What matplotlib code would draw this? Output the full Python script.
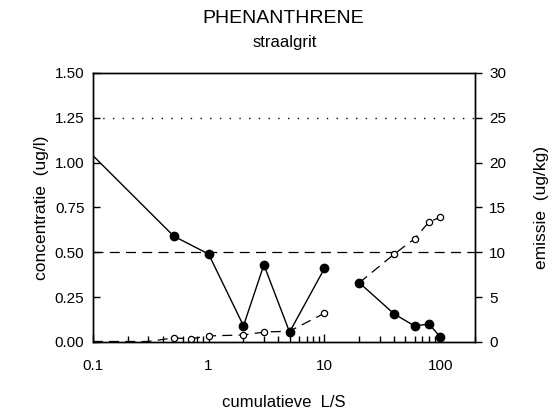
import numpy as np
import matplotlib.pyplot as plt
from matplotlib.ticker import FixedLocator, FuncFormatter, NullFormatter

plt.rcParams['font.family'] = ['Liberation Sans', 'DejaVu Sans']

# concentratie (ug/l), gevulde cirkels
conc_x1 = [0.1, 0.5, 1, 2, 3, 5, 10]
conc_y1 = [1.04, 0.59, 0.49, 0.09, 0.43, 0.055, 0.41]
conc_x2 = [20, 40, 60, 80, 100]
conc_y2 = [0.33, 0.156, 0.089, 0.10, 0.028]

# emissie (ug/kg), open cirkels
emis_x1 = [0.1, 0.2, 0.3, 0.5, 0.7, 1, 2, 3, 5, 10]
emis_y1 = [0.05, 0.05, 0.05, 0.45, 0.35, 0.67, 0.78, 1.1, 1.2, 3.2]
emis_x2 = [20, 40, 60, 80, 100]
emis_y2 = [6.6, 9.8, 11.5, 13.4, 13.9]

dotted_level = 1.25
dashed_level = 0.50

fig = plt.figure(figsize=(5.59, 4.17), dpi=100)
ax = fig.add_axes([0.166, 0.180, 0.684, 0.645])
ax.set_xscale('log')
ax2 = ax.twinx()

# referentielijnen
ax.axhline(dotted_level, color='black', linestyle=(0, (1, 6)), linewidth=1.0)
ax.axhline(dashed_level, color='black', linestyle=(0, (8, 5)), linewidth=0.9)

# emissie (rechter as)
ax2.plot(emis_x1, emis_y1, color='black', linestyle=(0, (8, 5)), linewidth=0.9,
         marker='o', markersize=4.5, markerfacecolor='white', markeredgecolor='black',
         markeredgewidth=0.9, markevery=list(range(3, len(emis_x1))), zorder=2)
ax2.plot(emis_x2, emis_y2, color='black', linestyle=(0, (8, 5)), linewidth=0.9,
         marker='o', markersize=4.5, markerfacecolor='white', markeredgecolor='black',
         markeredgewidth=0.9, zorder=2)

# concentratie (linker as) bovenop, omgerekend naar rechter schaal
ax2.plot(conc_x1, [v * 20 for v in conc_y1], color='black', linewidth=1.0,
         marker='o', markersize=6, markerfacecolor='black', markeredgecolor='black',
         markevery=list(range(1, len(conc_x1))), zorder=3)
ax2.plot(conc_x2, [v * 20 for v in conc_y2], color='black', linewidth=1.0,
         marker='o', markersize=6, markerfacecolor='black', markeredgecolor='black',
         zorder=3)

ax.set_xlim(0.1, 200)
ax.set_ylim(0, 1.5)
ax2.set_ylim(0, 30)

minor = [k * 10.0 ** e for e in (-1, 0, 1, 2) for k in range(2, 10) if k * 10.0 ** e <= 200]
ax.xaxis.set_major_locator(FixedLocator([0.1, 1, 10, 100]))
ax.xaxis.set_major_formatter(FuncFormatter(lambda v, p: f"{v:g}"))
ax.xaxis.set_minor_locator(FixedLocator(minor))
ax.xaxis.set_minor_formatter(NullFormatter())
ax.set_yticks([0, 0.25, 0.5, 0.75, 1.0, 1.25, 1.5])
ax.yaxis.set_major_formatter(FuncFormatter(lambda v, p: f"{v:.2f}"))
ax2.set_yticks([0, 5, 10, 15, 20, 25, 30])

ax.tick_params(axis='x', which='major', direction='in', length=6, width=1,
               color='black', labelsize=11, pad=12, bottom=True, top=False)
ax.tick_params(axis='x', which='minor', direction='in', length=4, width=1,
               color='black', bottom=True, top=False)
ax.tick_params(axis='y', which='major', direction='in', length=5, width=1,
               labelsize=11, pad=6, left=True, right=False)
ax2.tick_params(axis='y', which='major', direction='out', length=5, width=1,
                labelsize=11, pad=5)

for a in (ax, ax2):
    for s in a.spines.values():
        s.set_linewidth(1.0)

ax.set_xlabel('cumulatieve  L/S', fontsize=12, labelpad=16)
ax.set_ylabel('concentratie  (ug/l)', fontsize=12.5, labelpad=4)
ax2.set_ylabel('emissie  (ug/kg)', fontsize=12.5, labelpad=20)

fig.text(0.506, 0.955, 'PHENANTHRENE', ha='center', va='center', fontsize=14)
fig.text(0.510, 0.898, 'straalgrit', ha='center', va='center', fontsize=12)

fig.savefig('out.png', dpi=100)
